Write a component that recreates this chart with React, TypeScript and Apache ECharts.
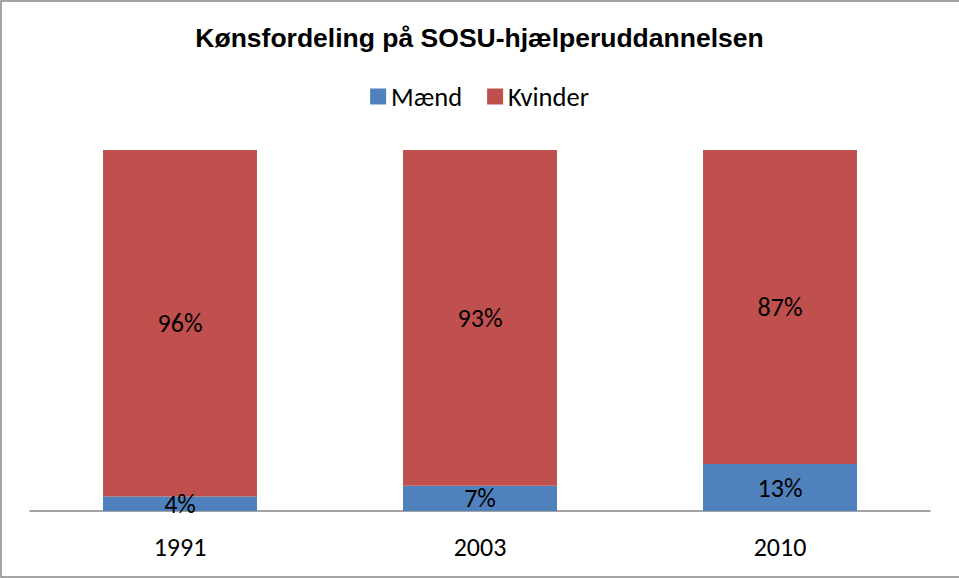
import React, { useEffect, useRef } from "react";
import * as echarts from "echarts";

const categories = ["1991", "2003", "2010"];
const maendValues = [4, 7, 13];
const kvinderValues = [96, 93, 87];
const seriesNames = ["Mænd", "Kvinder"];
const titleText = "Kønsfordeling på SOSU-hjælperuddannelsen";

export default function App() {
  const ref = useRef<HTMLDivElement>(null);
  useEffect(() => {
    if (!ref.current) return;
    const chart = echarts.init(ref.current, null, { renderer: "svg" });
    const font = "Carlito, Lato, 'Liberation Sans', sans-serif";
    const labelStyle = {
      show: true,
      position: "inside" as const,
      formatter: "{c}%",
      color: "#000",
      fontSize: 26,
      fontFamily: font,
    };
    chart.setOption({
      animation: false,
      backgroundColor: "#fff",
      title: {
        text: titleText,
        left: "center",
        top: 19,
        textStyle: {
          fontFamily: "'Liberation Sans', Arial, sans-serif",
          fontWeight: "bold",
          fontSize: 26.5,
          color: "#000",
        },
      },
      legend: {
        top: 78,
        left: "center",
        itemWidth: 16,
        itemHeight: 16,
        itemGap: 25,
        itemTextGap: 6,
        icon: "rect",
        textStyle: {
          fontFamily: font,
          fontSize: 26.5,
          color: "#000",
        },
        data: seriesNames,
      },
      grid: { left: 30, right: 29, top: 150, bottom: 67 },
      xAxis: {
        type: "category",
        data: categories,
        axisLine: { lineStyle: { color: "#868686", width: 1.5 } },
        axisTick: { show: false },
        axisLabel: {
          color: "#000",
          fontSize: 26,
          margin: 23,
          fontFamily: font,
        },
      },
      yAxis: {
        type: "value",
        min: 0,
        max: 100,
        show: false,
        splitLine: { show: false },
      },
      graphic: [
        {
          type: "rect",
          shape: { x: 1, y: 1, width: 970, height: 576 },
          style: { fill: "none", stroke: "#868686", lineWidth: 1.5 },
          silent: true,
          z: 100,
        },
      ],
      series: [
        {
          name: seriesNames[0],
          type: "bar",
          stack: "total",
          barWidth: 154,
          data: maendValues,
          itemStyle: { color: "#4F81BD" },
          label: labelStyle,
        },
        {
          name: seriesNames[1],
          type: "bar",
          stack: "total",
          barWidth: 154,
          data: kvinderValues,
          itemStyle: { color: "#C0504D" },
          label: labelStyle,
        },
      ],
    });
    return () => chart.dispose();
  }, []);
  return (
    <div
      ref={ref}
      style={{ position: "fixed", left: 0, top: 0, width: 959, height: 578 }}
    />
  );
}
